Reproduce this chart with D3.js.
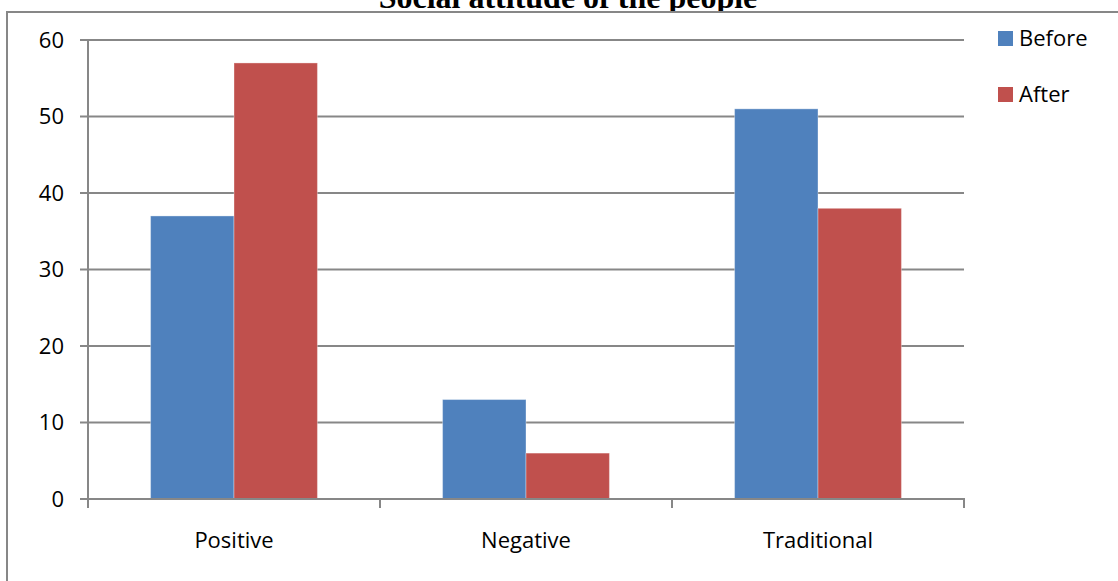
<!DOCTYPE html>
<html>
<head>
<meta charset="utf-8">
<script src="https://cdn.jsdelivr.net/npm/d3@7"></script>
<style>
  html, body { margin: 0; padding: 0; background: #fff; }
  svg { display: block; }
</style>
</head>
<body>
<svg id="chart" width="1118" height="581"></svg>
<script>
// Survey results: social attitude before and after
const categories = ["Positive", "Negative", "Traditional"];
const seriesNames = ["Before", "After"];
const beforeValues = [37, 13, 51];
const afterValues = [57, 6, 38];
const yTicks = [0, 10, 20, 30, 40, 50, 60];
const colors = ["#4F81BD", "#C0504D"];

const svg = d3.select("#chart");
const plot = { left: 88, right: 964, top: 40, bottom: 499 };
const gridColor = "#878787";
const labelFont = "'Open Sans', 'Noto Sans', sans-serif";
const labelSize = 22;

// Title sits above the chart frame; frame covers its lower part
svg.append("text")
  .attr("x", 568).attr("y", 8)
  .attr("text-anchor", "middle")
  .attr("font-family", "'Liberation Serif', 'Times New Roman', serif")
  .attr("font-weight", "bold")
  .attr("font-size", 32)
  .attr("fill", "#000")
  .text("Social attitude of the people");

// Chart frame
svg.append("rect")
  .attr("x", 7).attr("y", 12)
  .attr("width", 1300).attr("height", 800)
  .attr("fill", "#fff")
  .attr("stroke", gridColor)
  .attr("stroke-width", 2);

const x0 = d3.scaleBand().domain(categories).range([plot.left, plot.right]).padding(0);
const x1 = d3.scaleBand().domain(seriesNames).range([0, x0.bandwidth()])
  .paddingInner(0).paddingOuter(0.75);
const y = d3.scaleLinear().domain([0, 60]).range([plot.bottom, plot.top]);

// Horizontal gridlines with left tick stubs
svg.append("g").selectAll("line")
  .data(yTicks.filter(d => d > 0))
  .join("line")
  .attr("x1", plot.left - 8).attr("x2", plot.right)
  .attr("y1", d => y(d)).attr("y2", d => y(d))
  .attr("stroke", gridColor).attr("stroke-width", 2);

// Y tick labels
svg.append("g").selectAll("text")
  .data(yTicks)
  .join("text")
  .attr("x", 64).attr("y", d => y(d))
  .attr("dy", "0.35em")
  .attr("text-anchor", "end")
  .attr("font-family", labelFont)
  .attr("font-size", labelSize)
  .attr("fill", "#000")
  .text(d => d);

// Bars
const rows = categories.map((c, i) => ({ cat: c, vals: [beforeValues[i], afterValues[i]] }));
const groups = svg.append("g").selectAll("g")
  .data(rows)
  .join("g")
  .attr("transform", d => `translate(${x0(d.cat)},0)`);

groups.selectAll("rect")
  .data(d => d.vals.map((v, j) => ({ name: seriesNames[j], v, j })))
  .join("rect")
  .attr("x", d => x1(d.name))
  .attr("y", d => y(d.v))
  .attr("width", x1.bandwidth())
  .attr("height", d => y(0) - y(d.v))
  .attr("fill", d => colors[d.j])
  .attr("stroke", "rgba(255,255,255,0.35)")
  .attr("stroke-width", 1);

// Y axis line
svg.append("line")
  .attr("x1", plot.left).attr("x2", plot.left)
  .attr("y1", plot.top).attr("y2", plot.bottom)
  .attr("stroke", gridColor).attr("stroke-width", 2);

// X axis line, with zero tick stub
svg.append("line")
  .attr("x1", plot.left - 8).attr("x2", plot.right + 1)
  .attr("y1", plot.bottom).attr("y2", plot.bottom)
  .attr("stroke", gridColor).attr("stroke-width", 2);

// Category boundary ticks
const tickXs = categories.map(c => x0(c)).concat([x0.range()[1]]);
svg.append("g").selectAll("line")
  .data(tickXs)
  .join("line")
  .attr("x1", d => d).attr("x2", d => d)
  .attr("y1", plot.bottom).attr("y2", plot.bottom + 9)
  .attr("stroke", gridColor).attr("stroke-width", 2);

// Category labels
svg.append("g").selectAll("text")
  .data(categories)
  .join("text")
  .attr("x", d => x0(d) + x0.bandwidth() / 2)
  .attr("y", 548)
  .attr("text-anchor", "middle")
  .attr("font-family", labelFont)
  .attr("font-size", labelSize)
  .attr("fill", "#000")
  .text(d => d);

// Legend
const legend = svg.append("g").selectAll("g")
  .data(seriesNames)
  .join("g")
  .attr("transform", (d, i) => `translate(998,${31 + i * 56})`);
legend.append("rect")
  .attr("width", 15).attr("height", 15)
  .attr("fill", (d, i) => colors[i]);
legend.append("text")
  .attr("x", 21).attr("y", 15)
  .attr("font-family", labelFont)
  .attr("font-size", labelSize)
  .attr("fill", "#000")
  .text(d => d);
</script>
</body>
</html>
